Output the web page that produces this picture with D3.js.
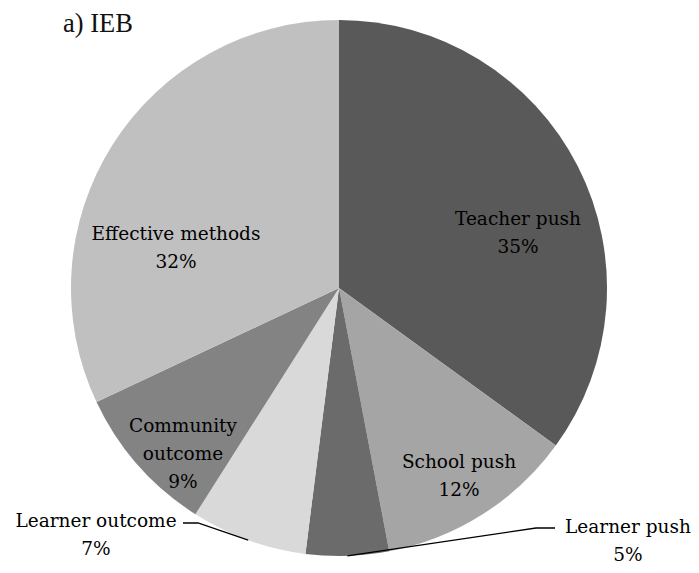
<!DOCTYPE html>
<html>
<head>
<meta charset="utf-8">
<script src="https://cdn.jsdelivr.net/npm/d3@7"></script>
<style>
  html, body { margin: 0; padding: 0; background: #fff; }
  svg { display: block; }
</style>
</head>
<body>
<svg id="chart" width="699" height="573"></svg>
<script>
// Share of responses by theme, clockwise from 12 o'clock
const categories = ["Teacher push", "School push", "Learner push", "Learner outcome", "Community outcome", "Effective methods"];
const shares = [35, 12, 5, 7, 9, 32];
const percentLabels = ["35%", "12%", "5%", "7%", "9%", "32%"];
const sliceColors = ["#595959", "#a5a5a5", "#6b6b6b", "#d9d9d9", "#838383", "#c0c0c0"];
const chartTitle = "a) IEB";

// Layout: pie geometry and where each label block sits (relative to pie centre)
const W = 699, H = 573;
const cx = 339, cy = 288, R = 268;
const labelLayout = [
  { dx: 179, dy: -63, lines: ["Teacher push"], outside: false },
  { dx: 120, dy: 180, lines: ["School push"], outside: false },
  { dx: 289, dy: 245, lines: ["Learner push"], outside: true, anchorDx: -73, anchorDy: -5, elbowDx: -92 },
  { dx: -243, dy: 239, lines: ["Learner outcome"], outside: true, anchorDx: 87, anchorDy: -4, elbowDx: 102 },
  { dx: -156, dy: 144, lines: ["Community", "outcome"], outside: false },
  { dx: -163, dy: -48, lines: ["Effective methods"], outside: false }
];
const lineGap = 28;

const svg = d3.select("#chart");

const pie = d3.pie().sort(null).value(d => d)(shares);
const arc = d3.arc().innerRadius(0).outerRadius(R);

const g = svg.append("g").attr("transform", `translate(${cx},${cy})`);

g.selectAll("path.slice")
  .data(pie)
  .join("path")
  .attr("class", "slice")
  .attr("d", arc)
  .attr("fill", (d, i) => sliceColors[i]);

// Leader lines for the small outside slices
pie.forEach((d, i) => {
  const L = labelLayout[i];
  if (!L.outside) return;
  const a = (d.startAngle + d.endAngle) / 2;
  const ex = R * Math.sin(a), ey = -R * Math.cos(a);
  const ax = L.dx + L.anchorDx, ay = L.dy + L.anchorDy;
  const bx = L.dx + L.elbowDx;
  g.append("path")
    .attr("d", d3.line()([[ax, ay], [bx, ay], [ex, ey]]))
    .attr("fill", "none")
    .attr("stroke", "#000")
    .attr("stroke-width", 1.3);
});

// Category and percentage labels
pie.forEach((d, i) => {
  const L = labelLayout[i];
  const lines = L.lines.concat([percentLabels[i]]);
  const t = g.append("text")
    .attr("x", L.dx)
    .attr("y", L.dy)
    .attr("text-anchor", "middle")
    .attr("font-family", "'DejaVu Serif', serif")
    .attr("font-size", 18.5)
    .attr("fill", "#000");
  lines.forEach((s, k) => {
    t.append("tspan")
      .attr("x", L.dx)
      .attr("dy", k === 0 ? 0 : lineGap)
      .text(s);
  });
});

svg.append("text")
  .attr("x", 63)
  .attr("y", 32)
  .attr("font-family", "'Liberation Serif', 'Times New Roman', serif")
  .attr("font-size", 26.5)
  .attr("fill", "#111")
  .text(chartTitle);
</script>
</body>
</html>
